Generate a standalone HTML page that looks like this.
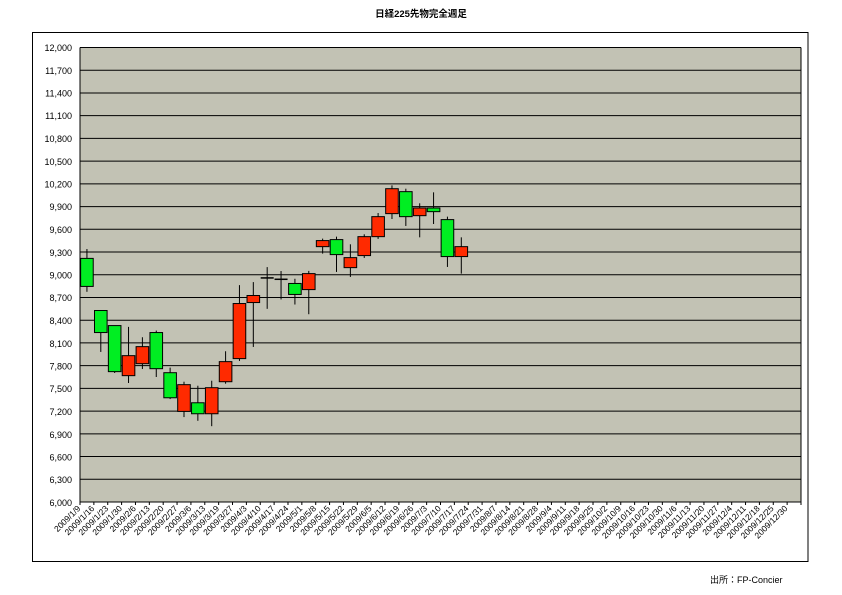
<!DOCTYPE html>
<html><head><meta charset="utf-8"><style>
body{margin:0;background:#fff;width:842px;height:595px;overflow:hidden;position:relative}
svg{display:block}
text{font-family:"Liberation Sans","Noto Sans CJK JP",sans-serif;fill:#000}
</style></head><body>
<svg id="s" width="842" height="595" xmlns="http://www.w3.org/2000/svg">
<text x="421" y="17" font-size="9.5" text-anchor="middle" font-weight="bold">日経225先物完全週足</text>
<rect x="32.5" y="32.5" width="775.5" height="529" fill="none" stroke="#000" stroke-width="1"/>
<rect x="80" y="47.5" width="721" height="454.5" fill="#c2c2b4"/>
<g id="grid"></g>
<g id="cand"></g>
<g font-size="9" text-anchor="end">
<text x="72" y="51">12,000</text><text x="72" y="74">11,700</text><text x="72" y="96.5">11,400</text><text x="72" y="119">11,100</text><text x="72" y="142">10,800</text><text x="72" y="165">10,500</text><text x="72" y="187.5">10,200</text><text x="72" y="210">9,900</text><text x="72" y="233">9,600</text><text x="72" y="256">9,300</text><text x="72" y="278.5">9,000</text><text x="72" y="301">8,700</text><text x="72" y="324">8,400</text><text x="72" y="347">8,100</text><text x="72" y="369.5">7,800</text><text x="72" y="392">7,500</text><text x="72" y="415">7,200</text><text x="72" y="438">6,900</text><text x="72" y="460.5">6,600</text><text x="72" y="483">6,300</text><text x="72" y="506">6,000</text>
</g>
<text x="710" y="583" font-size="9">出所：FP-Concier</text>
<g font-size="8.5" text-anchor="end" transform="translate(-3,0)">
<text transform="translate(84,509) rotate(-45)">2009/1/9</text><text transform="translate(97.9,509) rotate(-45)">2009/1/16</text><text transform="translate(111.8,509) rotate(-45)">2009/1/23</text><text transform="translate(125.6,509) rotate(-45)">2009/1/30</text><text transform="translate(139.5,509) rotate(-45)">2009/2/6</text><text transform="translate(153.3,509) rotate(-45)">2009/2/13</text><text transform="translate(167.2,509) rotate(-45)">2009/2/20</text><text transform="translate(181.1,509) rotate(-45)">2009/2/27</text><text transform="translate(194.9,509) rotate(-45)">2009/3/6</text><text transform="translate(208.8,509) rotate(-45)">2009/3/13</text><text transform="translate(222.7,509) rotate(-45)">2009/3/19</text><text transform="translate(236.5,509) rotate(-45)">2009/3/27</text><text transform="translate(250.4,509) rotate(-45)">2009/4/3</text><text transform="translate(264.3,509) rotate(-45)">2009/4/10</text><text transform="translate(278.1,509) rotate(-45)">2009/4/17</text><text transform="translate(292,509) rotate(-45)">2009/4/24</text><text transform="translate(305.8,509) rotate(-45)">2009/5/1</text><text transform="translate(319.7,509) rotate(-45)">2009/5/8</text><text transform="translate(333.6,509) rotate(-45)">2009/5/15</text><text transform="translate(347.4,509) rotate(-45)">2009/5/22</text><text transform="translate(361.3,509) rotate(-45)">2009/5/29</text><text transform="translate(375.2,509) rotate(-45)">2009/6/5</text><text transform="translate(389,509) rotate(-45)">2009/6/12</text><text transform="translate(402.9,509) rotate(-45)">2009/6/19</text><text transform="translate(416.8,509) rotate(-45)">2009/6/26</text><text transform="translate(430.6,509) rotate(-45)">2009/7/3</text><text transform="translate(444.5,509) rotate(-45)">2009/7/10</text><text transform="translate(458.3,509) rotate(-45)">2009/7/17</text><text transform="translate(472.2,509) rotate(-45)">2009/7/24</text><text transform="translate(486.1,509) rotate(-45)">2009/7/31</text><text transform="translate(499.9,509) rotate(-45)">2009/8/7</text><text transform="translate(513.8,509) rotate(-45)">2009/8/14</text><text transform="translate(527.7,509) rotate(-45)">2009/8/21</text><text transform="translate(541.5,509) rotate(-45)">2009/8/28</text><text transform="translate(555.4,509) rotate(-45)">2009/9/4</text><text transform="translate(569.3,509) rotate(-45)">2009/9/11</text><text transform="translate(583.1,509) rotate(-45)">2009/9/18</text><text transform="translate(597,509) rotate(-45)">2009/9/25</text><text transform="translate(610.8,509) rotate(-45)">2009/10/2</text><text transform="translate(624.7,509) rotate(-45)">2009/10/9</text><text transform="translate(638.6,509) rotate(-45)">2009/10/16</text><text transform="translate(652.4,509) rotate(-45)">2009/10/23</text><text transform="translate(666.3,509) rotate(-45)">2009/10/30</text><text transform="translate(680.2,509) rotate(-45)">2009/11/6</text><text transform="translate(694,509) rotate(-45)">2009/11/13</text><text transform="translate(707.9,509) rotate(-45)">2009/11/20</text><text transform="translate(721.8,509) rotate(-45)">2009/11/27</text><text transform="translate(735.6,509) rotate(-45)">2009/12/4</text><text transform="translate(749.5,509) rotate(-45)">2009/12/11</text><text transform="translate(763.3,509) rotate(-45)">2009/12/18</text><text transform="translate(777.2,509) rotate(-45)">2009/12/25</text><text transform="translate(791.1,509) rotate(-45)">2009/12/30</text>
</g>
</svg>
<script>
var NS="http://www.w3.org/2000/svg";
function el(p,t,a){var e=document.createElementNS(NS,t);for(var k in a)e.setAttribute(k,a[k]);p.appendChild(e);return e;}
var L=80,R=801,T=47.5,B=502,W=(R-L)/52;
function Y(v){return T+(12000-v)*(B-T)/6000;}
var g=document.getElementById('grid');
for(var v=6000;v<=12000;v+=300){el(g,'line',{x1:L,x2:R,y1:Y(v),y2:Y(v),stroke:'#000','stroke-width':1});}
el(g,'line',{x1:L,x2:L,y1:T,y2:B+3,stroke:'#000','stroke-width':1});
el(g,'line',{x1:R,x2:R,y1:T,y2:B,stroke:'#000','stroke-width':1});
for(var i=0;i<=52;i++){var x=L+i*W;el(g,'line',{x1:x,x2:x,y1:B,y2:B+3,stroke:'#000','stroke-width':1});}
var c=[[9216,8846,9340,8775,'g'],[8528,8237,0,7981,'g'],[8329,7721,0,7703,'g'],[7932,7668,8312,7571,'r'],[8051,7826,8175,7756,'r'],[8237,7760,8263,7650,'g'],[7707,7376,7774,7359,'g'],[7549,7196,7588,7121,'r'],[7310,7165,7535,7072,'g'],[7509,7165,7601,7001,'r'],[7853,7588,7990,7562,'r'],[8620,7893,8863,7862,'r'],[8726,8633,8903,8047,'r'],[8968,8952,9101,8550,'d'],[8950,8936,9049,8674,'d'],[8885,8740,8947,8607,'g'],[9015,8804,9051,8479,'r'],[9451,9371,9477,9279,'r'],[9464,9266,9503,9037,'g'],[9226,9094,9402,8971,'r'],[9503,9253,9534,9222,'r'],[9767,9503,9815,9473,'r'],[10136,9807,10180,9736,'r'],[10097,9767,10136,9644,'g'],[9881,9780,9943,9494,'r'],[9881,9833,10088,9670,'g'],[9728,9240,9767,9103,'g'],[9371,9240,9494,9015,'r']];
var cg=document.getElementById('cand');
c.forEach(function(d,i){var cx=L+(i+0.5)*W;var hi=d[2]||d[0];
el(cg,'line',{x1:cx,x2:cx,y1:Y(hi),y2:Y(d[3]),stroke:'#000','stroke-width':1});
if(d[4]=='d'){el(cg,'rect',{x:cx-6.5,y:Y(d[0]),width:13,height:Math.max(1.5,Y(d[1])-Y(d[0])),fill:'#000'});}
else el(cg,'rect',{x:cx-6.3,y:Y(d[0]),width:12.6,height:Y(d[1])-Y(d[0]),fill:d[4]=='g'?'#00ee22':'#ff2a00',stroke:'#000','stroke-width':1});});
</script>
</body></html>
